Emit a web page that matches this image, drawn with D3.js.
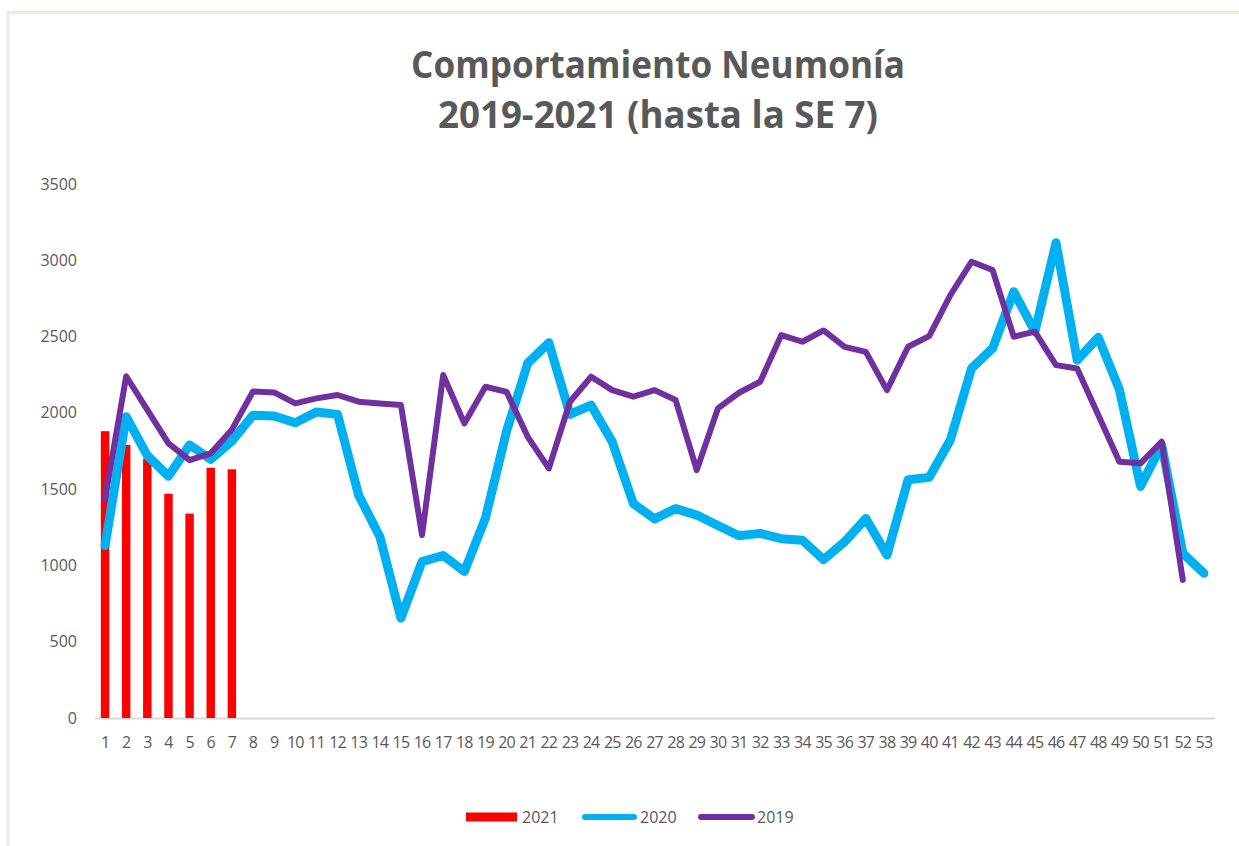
<!DOCTYPE html>
<html>
<head>
<meta charset="utf-8">
<script src="https://cdn.jsdelivr.net/npm/d3@7/dist/d3.min.js"></script>
<style>
  html, body { margin: 0; padding: 0; background: #ffffff; }
  svg { display: block; }
</style>
</head>
<body>
<svg id="chart" width="1239" height="846"></svg>
<script>
// ---- data ----
const weeks = ["1","2","3","4","5","6","7","8","9","10","11","12","13","14","15","16","17","18","19","20",
  "21","22","23","24","25","26","27","28","29","30","31","32","33","34","35","36","37","38","39","40",
  "41","42","43","44","45","46","47","48","49","50","51","52","53"];
const yTicks = [0, 500, 1000, 1500, 2000, 2500, 3000, 3500];
const values2021 = [1880, 1790, 1700, 1470, 1340, 1640, 1630];
const values2020 = [1130, 1975, 1720, 1585, 1790, 1695, 1815, 1985, 1980, 1935, 2005, 1990, 1460, 1190, 655,
  1025, 1065, 960, 1310, 1880, 2325, 2460, 1990, 2050, 1810, 1405, 1305, 1372, 1330, 1262, 1195, 1210,
  1175, 1165, 1038, 1155, 1308, 1068, 1562, 1577, 1822, 2291, 2423, 2794, 2532, 3115, 2346, 2495, 2152,
  1518, 1790, 1080, 948];
const values2019 = [1440, 2240, 2020, 1800, 1690, 1735, 1890, 2140, 2134, 2062, 2095, 2117, 2073, 2062, 2051,
  1199, 2248, 1931, 2171, 2138, 1843, 1636, 2073, 2237, 2149, 2106, 2149, 2084, 1625, 2029, 2132, 2204,
  2510, 2466, 2540, 2433, 2400, 2149, 2433, 2503, 2772, 2990, 2936, 2499, 2532, 2313, 2291, 1986, 1680,
  1669, 1811, 904];
const titleLines = ["Comportamiento Neumonía", "2019-2021 (hasta la SE 7)"];
const seriesNames = ["2021", "2020", "2019"];
const colors = { "2021": "#FF0000", "2020": "#00B0F0", "2019": "#7030A0" };

// ---- layout ----
const svg = d3.select("#chart");
const textColor = "#595959";
const font = "'Open Sans', 'Liberation Sans', sans-serif";

// frame
svg.append("rect")
  .attr("x", 8).attr("y", 12.5).attr("width", 1300).attr("height", 900)
  .attr("fill", "none").attr("stroke", "#EEECE1").attr("stroke-width", 3.5);

const x = d3.scaleBand().domain(weeks).range([94.5, 1214.5]).padding(0);
const xBar = d3.scaleBand().domain(weeks).range([94.5, 1214.5]).paddingInner(0.6).paddingOuter(0.3);
const y = d3.scaleLinear().domain([0, 3500]).range([718, 184]);
const cx = w => x(w) + x.bandwidth() / 2;

// title
const title = svg.append("g");
title.append("text")
  .attr("x", 658).attr("y", 78).attr("text-anchor", "middle")
  .attr("font-family", font).attr("font-weight", "bold").attr("font-size", 37)
  .attr("textLength", 494).attr("lengthAdjust", "spacingAndGlyphs")
  .attr("fill", textColor).text(titleLines[0]);
title.append("text")
  .attr("x", 658).attr("y", 128).attr("text-anchor", "middle")
  .attr("font-family", font).attr("font-weight", "bold").attr("font-size", 37)
  .attr("textLength", 440).attr("lengthAdjust", "spacingAndGlyphs")
  .attr("fill", textColor).text(titleLines[1]);

// y axis labels
const yAxis = d3.axisLeft(y).tickValues(yTicks).tickSize(0).tickPadding(0).tickFormat(d3.format("d"));
svg.append("g").attr("transform", "translate(77,0)").call(yAxis)
  .call(g => g.select(".domain").remove())
  .call(g => g.selectAll("text").attr("fill", textColor).attr("font-family", font).attr("font-size", 16));

// x axis
const xAxis = d3.axisBottom(x).tickSize(0).tickPadding(19);
svg.append("g").attr("transform", "translate(0,718)").call(xAxis)
  .call(g => g.select(".domain").attr("stroke", "#D9D9D9").attr("stroke-width", 2))
  .call(g => g.selectAll("text").attr("fill", textColor).attr("font-family", font).attr("font-size", 16)
    .attr("letter-spacing", -0.8));

// bars 2021
svg.append("g").selectAll("rect").data(values2021).join("rect")
  .attr("x", (d, i) => xBar(weeks[i]))
  .attr("width", xBar.bandwidth())
  .attr("y", d => y(d))
  .attr("height", d => y(0) - y(d))
  .attr("fill", colors["2021"]);

// lines
const line = d3.line().x((d, i) => cx(weeks[i])).y(d => y(d));
svg.append("path").datum(values2020)
  .attr("d", line).attr("fill", "none").attr("stroke", colors["2020"])
  .attr("stroke-width", 9).attr("stroke-linejoin", "round").attr("stroke-linecap", "round");
svg.append("path").datum(values2019)
  .attr("d", line).attr("fill", "none").attr("stroke", colors["2019"])
  .attr("stroke-width", 6).attr("stroke-linejoin", "round").attr("stroke-linecap", "round");

// legend
const legend = svg.append("g").attr("font-family", font).attr("font-size", 16).attr("fill", textColor);
const legY = 817;
legend.append("rect").attr("x", 466).attr("y", legY - 4.5).attr("width", 51).attr("height", 9).attr("fill", colors["2021"]);
legend.append("text").attr("x", 522).attr("y", legY).attr("dy", "0.35em").text(seriesNames[0]);
legend.append("line").attr("x1", 585).attr("x2", 634).attr("y1", legY).attr("y2", legY)
  .attr("stroke", colors["2020"]).attr("stroke-width", 6).attr("stroke-linecap", "round");
legend.append("text").attr("x", 640).attr("y", legY).attr("dy", "0.35em").text(seriesNames[1]);
legend.append("line").attr("x1", 701).attr("x2", 752).attr("y1", legY).attr("y2", legY)
  .attr("stroke", colors["2019"]).attr("stroke-width", 6).attr("stroke-linecap", "round");
legend.append("text").attr("x", 757).attr("y", legY).attr("dy", "0.35em").text(seriesNames[2]);
</script>
</body>
</html>
